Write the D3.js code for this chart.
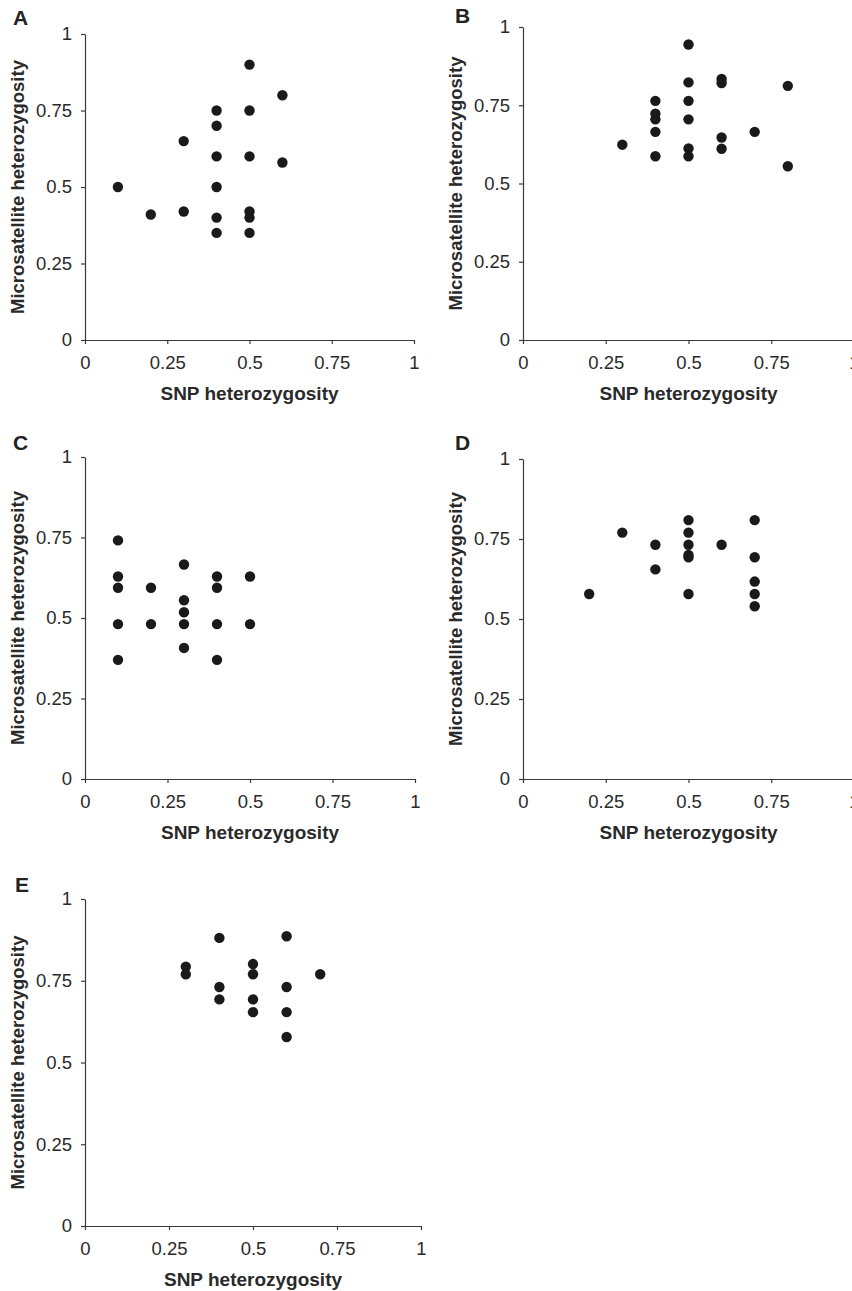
<!DOCTYPE html>
<html>
<head>
<meta charset="utf-8">
<script src="https://cdn.jsdelivr.net/npm/d3@7"></script>
<style>
    body { margin: 0; background: #fff; }
    svg { display: block; font-family: "Liberation Sans", Arial, sans-serif; }
</style>
</head>
<body>
<svg id="chart" width="852" height="1291"></svg>
<script>
// Tick values and labels shared by every panel.
var tickValues = [0, 0.25, 0.5, 0.75, 1];
var tickLabels = ['0', '0.25', '0.5', '0.75', '1'];

var xTitle = 'SNP heterozygosity';
var yTitle = 'Microsatellite heterozygosity';

// SNP heterozygosity (x) and microsatellite heterozygosity (y), per panel.
var snpA = [0.1, 0.2, 0.3, 0.3, 0.4, 0.4, 0.4, 0.4, 0.4, 0.4, 0.5, 0.5, 0.5, 0.5, 0.5, 0.5, 0.6, 0.6];
var msA = [0.5, 0.41, 0.65, 0.42, 0.75, 0.7, 0.6, 0.5, 0.4, 0.35, 0.9, 0.75, 0.6, 0.42, 0.4, 0.35, 0.8, 0.58];

var snpB = [0.3, 0.4, 0.4, 0.4, 0.4, 0.4, 0.5, 0.5, 0.5, 0.5, 0.5, 0.5, 0.6, 0.6, 0.6, 0.6, 0.7, 0.8, 0.8];
var msB = [0.624, 0.764, 0.723, 0.705, 0.665, 0.587, 0.944, 0.823, 0.764, 0.705, 0.612, 0.587, 0.834, 0.821, 0.647, 0.611, 0.665, 0.812, 0.555];

var snpC = [0.1, 0.1, 0.1, 0.1, 0.1, 0.2, 0.2, 0.3, 0.3, 0.3, 0.3, 0.3, 0.4, 0.4, 0.4, 0.4, 0.5, 0.5];
var msC = [0.741, 0.629, 0.594, 0.481, 0.37, 0.594, 0.481, 0.666, 0.555, 0.518, 0.481, 0.407, 0.629, 0.594, 0.481, 0.37, 0.629, 0.481];

var snpD = [0.2, 0.3, 0.4, 0.4, 0.5, 0.5, 0.5, 0.5, 0.5, 0.5, 0.6, 0.7, 0.7, 0.7, 0.7, 0.7];
var msD = [0.578, 0.77, 0.732, 0.655, 0.809, 0.77, 0.732, 0.693, 0.7, 0.578, 0.732, 0.809, 0.693, 0.617, 0.578, 0.54];

var snpE = [0.3, 0.3, 0.4, 0.4, 0.4, 0.5, 0.5, 0.5, 0.5, 0.6, 0.6, 0.6, 0.6, 0.7];
var msE = [0.793, 0.77, 0.881, 0.731, 0.693, 0.801, 0.77, 0.693, 0.654, 0.886, 0.731, 0.654, 0.578, 0.77];

var panelNames = ['A', 'B', 'C', 'D', 'E'];
var panelSnp = [snpA, snpB, snpC, snpD, snpE];
var panelMs = [msA, msB, msC, msD, msE];

// Plot area of each panel in page pixels (left, right, top, bottom) and letter offset.
var layout = [
    { left: 85, right: 414, top: 34, bottom: 340, lx: -72, ly: -9 },
    { left: 523, right: 854, top: 27, bottom: 340, lx: -68, ly: -4 },
    { left: 85, right: 415, top: 457, bottom: 779, lx: -72, ly: -7 },
    { left: 523, right: 854, top: 459, bottom: 779, lx: -68, ly: -9 },
    { left: 85, right: 421, top: 899, bottom: 1226, lx: -70, ly: -7 }
];

var svg = d3.select('#chart');
var axisColor = '#3a3a3a';

panelNames.forEach(function (name, i) {
    var box = layout[i];

    var x = d3.scaleLinear().domain([0, 1]).range([box.left, box.right]);
    var y = d3.scaleLinear().domain([0, 1]).range([box.bottom, box.top]);

    var g = svg.append('g').attr('class', 'panel panel-' + name);

    // X axis.
    var xAxis = g.append('g')
        .attr('transform', 'translate(0,' + box.bottom + ')')
        .call(d3.axisBottom(x)
            .tickValues(tickValues)
            .tickFormat(function (d, j) { return tickLabels[j]; })
            .tickSizeInner(4)
            .tickSizeOuter(0)
            .tickPadding(12));

    // Y axis.
    var yAxis = g.append('g')
        .attr('transform', 'translate(' + box.left + ',0)')
        .call(d3.axisLeft(y)
            .tickValues(tickValues)
            .tickFormat(function (d, j) { return tickLabels[j]; })
            .tickSizeInner(4)
            .tickSizeOuter(0)
            .tickPadding(9));

    [xAxis, yAxis].forEach(function (ax) {
        ax.select('.domain').attr('stroke', axisColor).attr('stroke-width', 1.2);
        ax.selectAll('.tick line').attr('stroke', axisColor).attr('stroke-width', 1.2);
        ax.selectAll('.tick text')
            .attr('fill', '#2a2a2a')
            .style('font-size', '18.5px')
            .style('font-family', '"Liberation Sans", Arial, sans-serif');
    });

    // Axis titles.
    g.append('text')
        .attr('x', (box.left + box.right) / 2)
        .attr('y', box.bottom + 60)
        .attr('text-anchor', 'middle')
        .attr('fill', '#2a2a2a')
        .style('font-size', '19px')
        .style('font-weight', 'bold')
        .text(xTitle);

    g.append('text')
        .attr('transform', 'translate(' + (box.left - 61) + ',' + ((box.top + box.bottom) / 2) + ') rotate(-90)')
        .attr('text-anchor', 'middle')
        .attr('fill', '#2a2a2a')
        .style('font-size', '18.5px')
        .style('font-weight', 'bold')
        .text(yTitle);

    // Panel letter.
    g.append('text')
        .attr('x', box.left + box.lx)
        .attr('y', box.top + box.ly)
        .attr('fill', '#222')
        .style('font-size', '21px')
        .style('font-weight', 'bold')
        .text(name);

    // Points.
    var points = panelSnp[i].map(function (v, k) {
        return { snp: v, ms: panelMs[i][k] };
    });

    g.selectAll('circle.dot')
        .data(points)
        .enter()
        .append('circle')
        .attr('class', 'dot')
        .attr('cx', function (d) { return x(d.snp); })
        .attr('cy', function (d) { return y(d.ms); })
        .attr('r', 5.2)
        .style('fill', '#1a1a1a');
});
</script>
</body>
</html>
